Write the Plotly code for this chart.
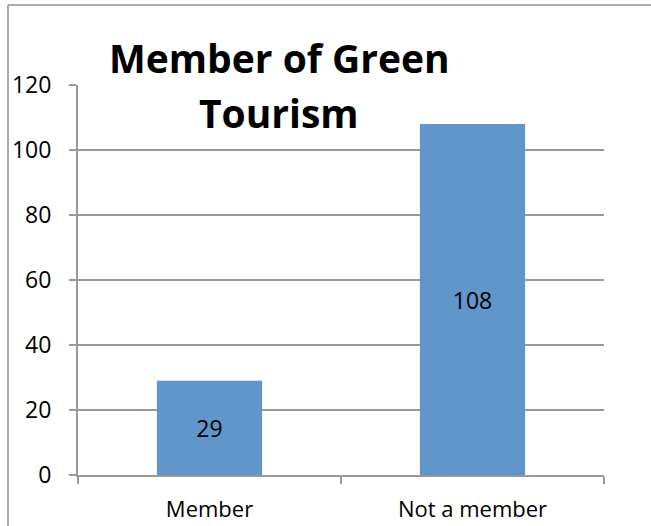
import plotly.graph_objects as go

categories = ["Member", "Not a member"]
counts = [29, 108]
y_ticks = [0, 20, 40, 60, 80, 100, 120]

W, H = 651, 526
ML, MR, MT, MB = 78, 47, 85, 51
PW, PH = W - ML - MR, H - MT - MB


def px_x(px):
    return (px - ML) / PW


def px_y(py):
    return (H - MB - py) / PH


GRID = "#999999"
FONT = "Open Sans"

fig = go.Figure(
    go.Bar(
        x=categories,
        y=counts,
        width=0.4,
        marker=dict(color="#6096c9", line=dict(width=0)),
        text=[str(v) for v in counts],
        textposition="inside",
        insidetextanchor="middle",
        textfont=dict(family=FONT, size=23, color="black"),
        hoverinfo="skip",
    )
)

fig.update_layout(
    width=W,
    height=H,
    margin=dict(l=ML, r=MR, t=MT, b=MB),
    paper_bgcolor="white",
    plot_bgcolor="white",
    showlegend=False,
    font=dict(family=FONT, color="black"),
    xaxis=dict(
        type="category",
        range=[-0.5, 1.5],
        automargin=False,
        showline=True,
        linecolor=GRID,
        linewidth=2,
        ticks="outside",
        tickson="boundaries",
        ticklen=7,
        tickwidth=2,
        tickcolor=GRID,
        showgrid=False,
        tickfont=dict(family=FONT, size=22, color="black"),
        ticklabelstandoff=14,
    ),
    yaxis=dict(
        range=[0, 120],
        tickvals=y_ticks,
        automargin=False,
        showline=True,
        linecolor=GRID,
        linewidth=2,
        ticks="outside",
        ticklen=7,
        tickwidth=2,
        tickcolor=GRID,
        showgrid=True,
        gridcolor=GRID,
        gridwidth=2,
        zeroline=False,
        tickfont=dict(family=FONT, size=23, color="black"),
        ticklabelstandoff=13,
    ),
)

# Two-line bold title
for line, py in [("Member of Green", 57), ("Tourism", 113)]:
    fig.add_annotation(
        text=f"<b>{line}</b>",
        xref="paper",
        yref="paper",
        x=px_x(279),
        y=px_y(py),
        xanchor="center",
        yanchor="middle",
        showarrow=False,
        font=dict(family=FONT, size=39, color="black"),
    )

# Chart frame (left and top edges)
fig.add_shape(type="line", xref="paper", yref="paper",
              x0=px_x(8), x1=px_x(8), y0=px_y(5), y1=px_y(540),
              line=dict(color="#aaaaaa", width=2))
fig.add_shape(type="line", xref="paper", yref="paper",
              x0=px_x(8), x1=px_x(660), y0=px_y(5), y1=px_y(5),
              line=dict(color="#aaaaaa", width=2))

fig.write_html("out.html")
